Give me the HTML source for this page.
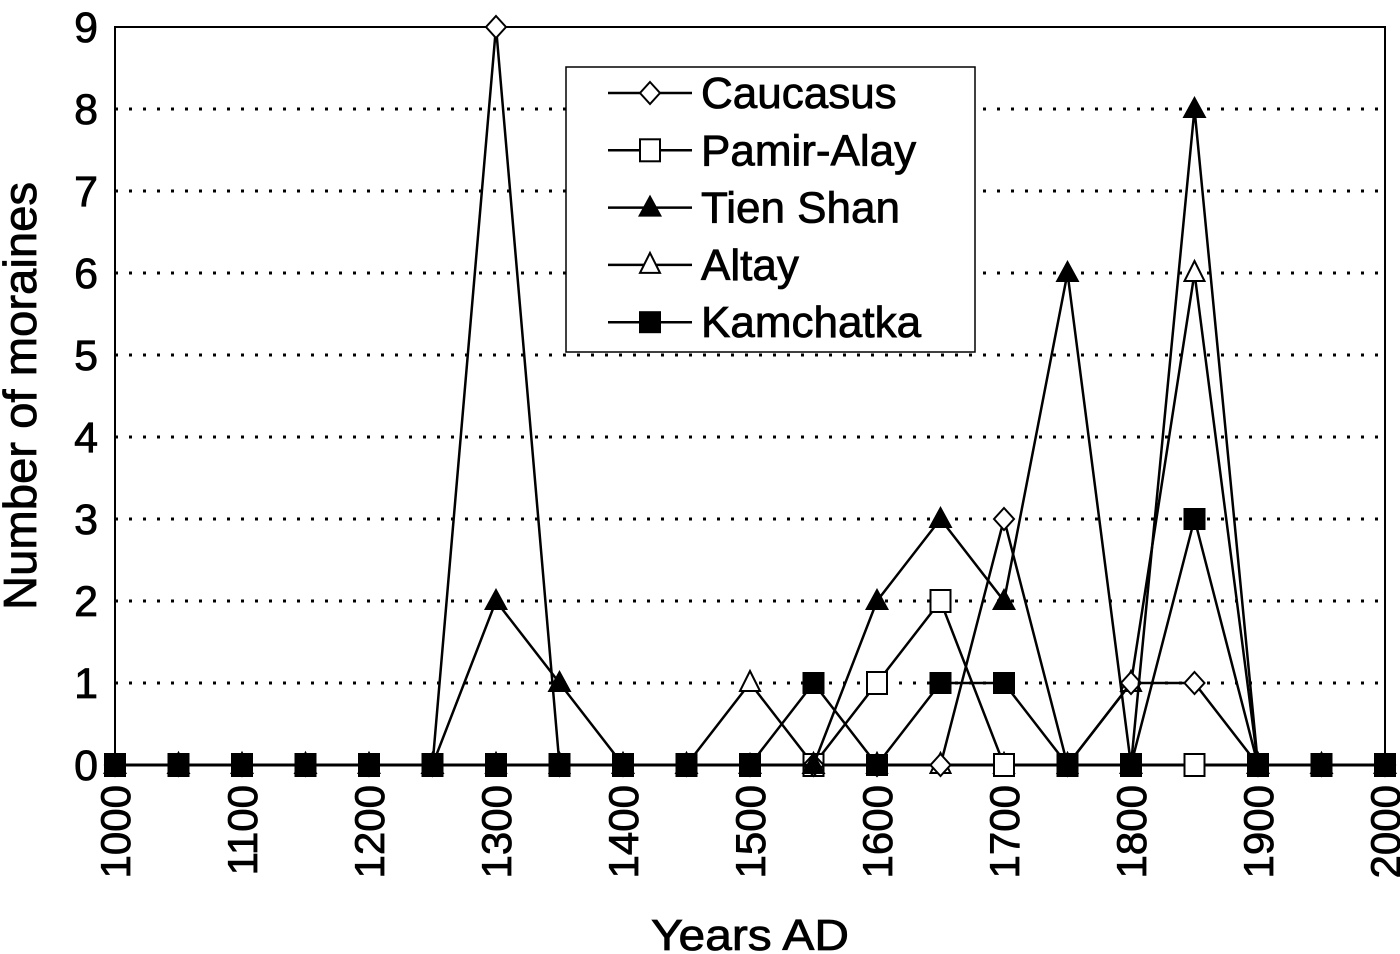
<!DOCTYPE html>
<html><head><meta charset="utf-8"><style>
html,body{margin:0;padding:0;background:#fff;}
svg{display:block;font-family:"Liberation Sans",sans-serif;}
text{stroke:#000;stroke-width:0.8px;}
</style></head><body>
<svg width="1400" height="954" viewBox="0 0 1400 954">
<g id="grid"></g>
<g id="axes"></g>
<g id="series"></g>
<text x="36" y="396" transform="rotate(-90 36 396)" text-anchor="middle" font-size="46" textLength="428" lengthAdjust="spacingAndGlyphs">Number of moraines</text>
<text x="750" y="950" text-anchor="middle" font-size="44" textLength="198" lengthAdjust="spacingAndGlyphs">Years AD</text>
<g>
<rect x="566" y="67" width="409" height="285" fill="#fff" stroke="#000" stroke-width="1.5"/>
<g id="legend"></g>
</g>
</svg>
<script>
const years=[1000,1050,1100,1150,1200,1250,1300,1350,1400,1450,1500,1550,1600,1650,1700,1750,1800,1850,1900,1950,2000];
const caucasus=[0,0,0,0,0,0,9,0,0,0,0,0,0,0,3,0,1,1,0,0,0];
const pamir=[0,0,0,0,0,0,0,0,0,0,0,0,1,2,0,0,0,0,0,0,0];
const tienShan=[0,0,0,0,0,0,2,1,0,0,0,0,2,3,2,6,0,8,0,0,0];
const altay=[0,0,0,0,0,0,0,0,0,0,1,0,0,0,0,0,1,6,0,0,0];
const kamchatka=[0,0,0,0,0,0,0,0,0,0,0,1,0,1,1,0,0,3,0,0,0];
const xTicks=[1000,1100,1200,1300,1400,1500,1600,1700,1800,1900,2000];
const yTicks=[0,1,2,3,4,5,6,7,8,9];
const names=["Caucasus","Pamir-Alay","Tien Shan","Altay","Kamchatka"];
const markers=["diamond","opensquare","filltri","opentri","fillsquare"];
const X0=115,X1=1385,Y0=765,Y1=27;
const xs=v=>X0+(v-1000)/1000*(X1-X0);
const ys=v=>Y0-v/9*(Y0-Y1);
const NS="http://www.w3.org/2000/svg";
function mk(tag,attrs,parent){const e=document.createElementNS(NS,tag);for(const k in attrs)e.setAttribute(k,attrs[k]);parent.appendChild(e);return e;}
const grid=document.getElementById('grid'),axes=document.getElementById('axes'),ser=document.getElementById('series'),leg=document.getElementById('legend');
yTicks.forEach(t=>{
  if(t>0&&t<9){const l=mk('line',{x1:X0,x2:X1,y1:ys(t),y2:ys(t),stroke:'#000','stroke-width':3,'stroke-dasharray':'3 11'},grid);
  
  }
  const tx=mk('text',{x:98,y:ys(t)+15,'text-anchor':'end','font-size':43},axes);tx.textContent=t;
  
  
});
xTicks.forEach(t=>{
  const x=xs(t);const tx=mk('text',{x:x+15,y:785,'text-anchor':'end','font-size':42,transform:`rotate(-90 ${x+15} 785)`},axes);tx.textContent=t;
  
  
});
mk('rect',{x:X0,y:Y1,width:X1-X0,height:Y0-Y1,fill:'none',stroke:'#000','stroke-width':2},axes);
mk('line',{x1:X0,x2:X1,y1:Y0,y2:Y0,stroke:'#000','stroke-width':3},axes);
function marker(type,x,y,parent){
  let e;
  if(type==='diamond')e=mk('polygon',{points:`${x},${y-11} ${x+10},${y} ${x},${y+11} ${x-10},${y}`,fill:'#fff',stroke:'#000','stroke-width':2},parent);
  else if(type==='opensquare')e=mk('rect',{x:x-10,y:y-11,width:20,height:22,fill:'#fff',stroke:'#000','stroke-width':2},parent);
  else if(type==='fillsquare')e=mk('rect',{x:x-11,y:y-11,width:22,height:22,fill:'#000'},parent);
  else if(type==='filltri')e=mk('polygon',{points:`${x},${y-13} ${x+12},${y+9} ${x-12},${y+9}`,fill:'#000'},parent);
  else e=mk('polygon',{points:`${x},${y-12} ${x+10},${y+8} ${x-10},${y+8}`,fill:'#fff',stroke:'#000','stroke-width':2},parent);
  return e;
}
const allSeries=[caucasus,pamir,tienShan,altay,kamchatka];
const order=[3,1,0,2,4];
order.forEach(i=>{
  const data=allSeries[i];
  const g=mk('g',{},ser);
  
  
  mk('polyline',{points:data.map((v,j)=>xs(years[j])+','+ys(v)).join(' '),fill:'none',stroke:'#000','stroke-width':2.5},g);
  data.forEach((v,j)=>{const m=marker(markers[i],xs(years[j]),ys(v),g);
    
    });
});
names.forEach((n,i)=>{
  const y=93+i*57.3;
  const g=mk('g',{},leg);
  
  
  mk('line',{x1:608,x2:692,y1:y,y2:y,stroke:'#000','stroke-width':2.5},g);
  marker(markers[i],650,y,g);
  const t=mk('text',{x:701,y:y+15,'font-size':44},g);t.textContent=n;
});
</script>
</body></html>
